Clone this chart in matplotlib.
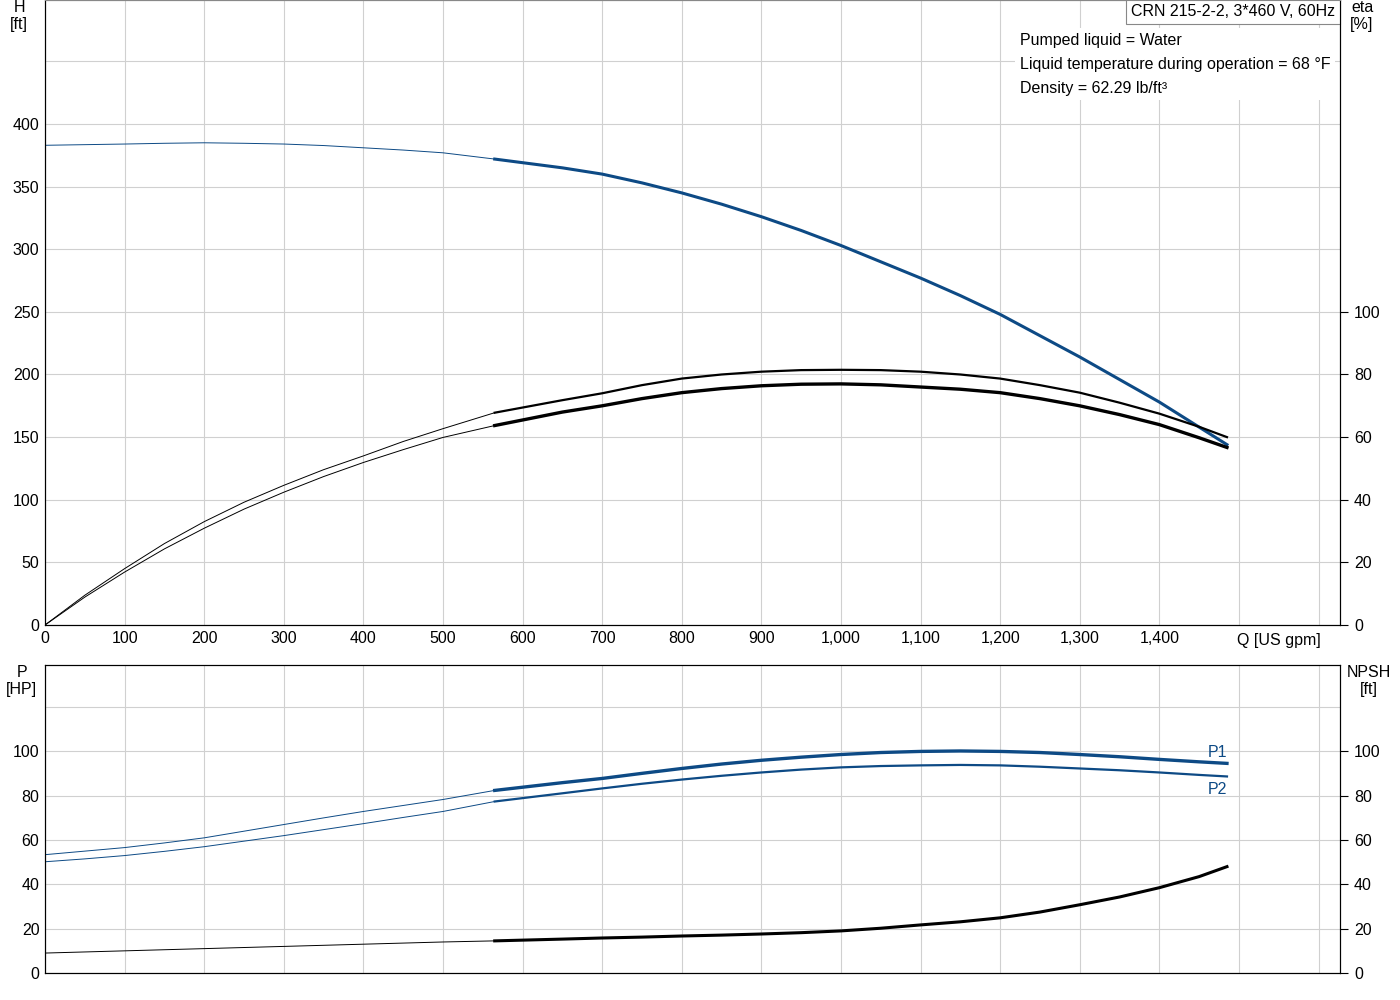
import matplotlib
matplotlib.use("Agg")
import matplotlib.pyplot as plt

plt.rcParams['font.family'] = ['Liberation Sans', 'DejaVu Sans']

q = [0, 50, 100, 150, 200, 250, 300, 350, 400, 450, 500, 565, 650, 700, 750, 800, 850, 900, 950,
     1000, 1050, 1100, 1150, 1200, 1250, 1300, 1350, 1400, 1450, 1485]
head = [383, 383.5, 384, 384.6, 385, 384.6, 384, 382.8, 381, 379.2, 377, 372, 365, 360, 353, 345, 336, 326, 315,
        303, 290, 277, 263, 248, 231, 214, 196, 178, 158, 144]
eta1 = [0, 9.5, 18, 26, 33, 39.2, 44.6, 49.6, 54, 58.6, 62.7, 67.8, 71.8, 74, 76.6, 78.7, 80, 80.9, 81.4,
        81.5, 81.4, 80.9, 80, 78.7, 76.6, 74.2, 71, 67.5, 63.3, 60]
eta2 = [0, 8.9, 16.9, 24.3, 30.9, 37, 42.4, 47.4, 51.9, 56, 59.9, 63.7, 68, 70, 72.3, 74.2, 75.5, 76.4, 76.9,
        77, 76.7, 76, 75.3, 74.2, 72.3, 70, 67.2, 64, 59.8, 56.7]
p1 = [53.4, 55, 56.6, 58.7, 61, 64, 67, 70, 72.9, 75.6, 78.3, 82.4, 85.9, 87.8, 90.1, 92.3, 94.3, 96, 97.4,
      98.6, 99.5, 100, 100.2, 100, 99.5, 98.6, 97.6, 96.4, 95.3, 94.6]
p2 = [50.2, 51.5, 53, 54.9, 57, 59.5, 62, 64.7, 67.4, 70.2, 72.9, 77.4, 81.1, 83.3, 85.4, 87.3, 89, 90.5, 91.8,
      92.8, 93.4, 93.7, 93.9, 93.7, 93.1, 92.3, 91.5, 90.5, 89.4, 88.7]
npsh = [9, 9.5, 10, 10.5, 11, 11.5, 12, 12.5, 13, 13.5, 14, 14.5, 15.3, 15.8, 16.2, 16.7, 17.1, 17.6, 18.2,
        19, 20.2, 21.7, 23.1, 24.9, 27.5, 30.8, 34.3, 38.5, 43.5, 48]
split = 11

BLUE = "#0d4a85"
GRID = "#d0d0d0"

fig = plt.figure(figsize=(14, 10), dpi=100)
ax = fig.add_axes([45/1400, 0.375, 1295/1400, 0.625])
bx = fig.add_axes([45/1400, 0.027, 1295/1400, 0.308])
XMAX = 1627

def seg(a, x, y, c, scale=1.0, lw=2.2):
    a.plot(x[:split+1], [v*scale for v in y[:split+1]], color=c, lw=0.7)
    a.plot(x[split:], [v*scale for v in y[split:]], color=c, lw=lw)

# top
ax.set_xlim(0, XMAX); ax.set_ylim(0, 499)
ax.set_xticks(range(0, 1700, 100))
ax.set_yticks(range(0, 500, 50))
ax.grid(True, color=GRID, lw=0.8)
ax.set_axisbelow(True)
seg(ax, q, head, BLUE)
seg(ax, q, eta1, "black", 2.5, lw=1.6)
seg(ax, q, eta2, "black", 2.5, lw=2.4)
ax.set_xticklabels([f"{v:,}" if v <= 1400 else "" for v in range(0, 1700, 100)])
ax.set_yticklabels([str(v) if v <= 400 else "" for v in range(0, 500, 50)])
ax.tick_params(labelsize=11.5, length=0, pad=4)
ax.text(1550, -12, "Q [US gpm]", fontsize=11.5, ha="center", va="center")
ax2 = ax.twinx()
ax2.set_ylim(0, 499*0.4)
ax2.set_yticks(range(0, 101, 20))
ax2.tick_params(labelsize=11.5, length=6, direction="out", pad=4)
for a in (ax, ax2):
    a.spines["top"].set_color("#888888")
ax.text(-0.02, 1.0, "H\n[ft]", transform=ax.transAxes, ha="center", va="top", fontsize=11.5)
ax2.text(1.017, 1.0, "eta\n[%]", transform=ax.transAxes, ha="center", va="top", fontsize=11.5)
ax.text(0.996, 0.982, "CRN 215-2-2, 3*460 V, 60Hz", transform=ax.transAxes, fontsize=11.5,
        ha="right", va="center",
        bbox=dict(boxstyle="square,pad=0.3", fc="white", ec="#888888", lw=0.8))
ax.text(1225, 473, "Pumped liquid = Water\nLiquid temperature during operation = 68 °F\nDensity = 62.29 lb/ft³",
        fontsize=11.5, va="top", ha="left", linespacing=1.75,
        bbox=dict(boxstyle="square,pad=0.3", fc="white", ec="none"))

# bottom
bx.set_xlim(0, XMAX); bx.set_ylim(0, 139)
bx.set_xticks(range(0, 1700, 100))
bx.set_yticks(range(0, 140, 20))
bx.grid(True, color=GRID, lw=0.8)
bx.set_axisbelow(True)
seg(bx, q, p1, BLUE, lw=2.4)
seg(bx, q, p2, BLUE, lw=1.6)
seg(bx, q, npsh, "black")
bx.set_xticklabels([])
bx.set_yticklabels([str(v) if v <= 100 else "" for v in range(0, 140, 20)])
bx.tick_params(labelsize=11.5, length=0, pad=4)
bx2 = bx.twinx()
bx2.set_ylim(0, 139)
bx2.set_yticks(range(0, 101, 20))
bx2.tick_params(labelsize=11.5, length=6, direction="out", pad=4)
bx.text(1485, p1[-1]+3, "P1", color=BLUE, fontsize=11.5, ha="right")
bx.text(1485, p2[-1]-8, "P2", color=BLUE, fontsize=11.5, ha="right")
bx.text(-0.018, 1.0, "P\n[HP]", transform=bx.transAxes, ha="center", va="top", fontsize=11.5)
bx2.text(1.022, 1.0, "NPSH\n[ft]", transform=bx.transAxes, ha="center", va="top", fontsize=11.5)

fig.savefig("out.png", dpi=100)
